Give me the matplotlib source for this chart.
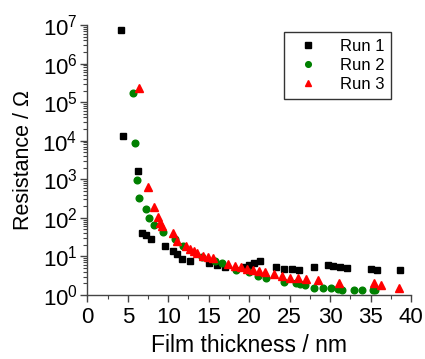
import matplotlib
matplotlib.use("Agg")
import matplotlib.pyplot as plt
from matplotlib.ticker import MultipleLocator, LogLocator, NullFormatter

plt.rcParams['font.family'] = ['Liberation Sans', 'DejaVu Sans']
plt.rcParams['mathtext.fontset'] = 'custom'
plt.rcParams['mathtext.rm'] = 'Liberation Sans'
plt.rcParams['mathtext.it'] = 'Liberation Sans'
plt.rcParams['mathtext.bf'] = 'Liberation Sans'

run1_x = [4.16, 4.41, 6.22, 6.72, 7.25, 7.83, 9.56, 10.54, 11.05, 11.65, 12.64, 15.02,
          16.04, 16.96, 19.32, 19.99, 20.58, 21.3, 23.38, 24.37, 25.27, 26.11, 28.02,
          29.8, 30.42, 31.28, 32.06, 35.06, 35.85, 38.69]
run1_y = [7.3e6, 1.32e4, 1.66e3, 41, 35, 28.3, 18.3, 14.1, 11.7, 8.7, 7.7, 6.9,
          5.9, 5.4, 5.3, 6.05, 6.8, 7.4, 5.4, 4.8, 4.7, 4.5, 5.4,
          5.9, 5.6, 5.3, 5.1, 4.8, 4.45, 4.5]

run2_x = [5.68, 5.93, 6.14, 6.42, 7.21, 7.62, 8.2, 9.31, 10.79, 11.81, 14.2, 15.77,
          16.63, 18.35, 19.96, 21.14, 22.12, 24.32, 25.85, 26.26, 26.94, 28.05, 29.16,
          30.17, 31.01, 31.44, 33.01, 34.0, 35.27, 35.58]
run2_y = [1.74e5, 8.9e3, 935, 332, 172, 99, 65, 43, 27.7, 18.6, 9.8, 7.5,
          6.7, 4.45, 3.87, 3.05, 2.7, 2.17, 2.0, 1.93, 1.8, 1.5, 1.5,
          1.49, 1.41, 1.35, 1.33, 1.33, 1.33, 1.33]

run3_x = [6.42, 7.56, 8.23, 8.73, 9.04, 9.22, 10.62, 11.14, 12.19, 12.68, 13.17, 13.58,
          14.32, 14.9, 15.48, 17.43, 18.27, 18.98, 19.78, 20.46, 21.2, 21.94, 23.05,
          24.1, 25.06, 26.01, 27.06, 28.46, 31.14, 35.43, 36.28, 38.54]
run3_y = [2.3e5, 620, 196, 105, 73, 61, 40, 25, 18.3, 15.8, 14.0, 12.3,
          10.2, 9.8, 9.2, 6.5, 5.65, 5.2, 4.8, 4.45, 4.1, 3.9, 3.5,
          3.1, 2.84, 2.76, 2.55, 2.4, 2.02, 2.05, 1.87, 1.52]

fig = plt.figure(figsize=(4.25, 3.59), dpi=100)
ax = fig.add_axes([0.2054, 0.1783, 0.7616, 0.7521])

ax.plot(run1_x, run1_y, 's', color='black', markersize=4.5, linestyle='none', label='Run 1')
ax.plot(run2_x, run2_y, 'o', color='#008000', markersize=4.8, linestyle='none', label='Run 2')
ax.plot(run3_x, run3_y, '^', color='#ff0000', markersize=5.5, linestyle='none', label='Run 3')

ax.set_yscale('log')
ax.set_xlim(0, 40)
ax.set_ylim(1, 1e7)
ax.xaxis.set_major_locator(MultipleLocator(5))
ax.xaxis.set_minor_locator(MultipleLocator(2.5))
ax.yaxis.set_major_locator(LogLocator(base=10, numticks=20))
ax.yaxis.set_minor_locator(LogLocator(base=10, subs=range(2, 10), numticks=100))
ax.yaxis.set_minor_formatter(NullFormatter())

for s in ['top', 'right']:
    ax.spines[s].set_visible(False)
for s in ['left', 'bottom']:
    ax.spines[s].set_color('#444444')
    ax.spines[s].set_linewidth(1.0)

ax.tick_params(axis='both', which='major', direction='out', length=5, width=1,
               labelsize=16, color='#444444')
ax.tick_params(axis='x', which='major', pad=4)
ax.tick_params(axis='y', which='major', pad=2)
ax.tick_params(axis='both', which='minor', direction='out', length=3, width=0.8,
               color='#444444')

ax.set_xlabel('Film thickness / nm', fontsize=16.5, labelpad=4)
ax.set_ylabel('Resistance / \u03a9', fontsize=15.5, labelpad=6)

leg = ax.legend(loc='upper right', bbox_to_anchor=(0.938, 0.974), borderaxespad=0,
                fontsize=12, frameon=True, fancybox=False, edgecolor='black',
                borderpad=0.4, handletextpad=0.92, labelspacing=0.25, markerscale=0.85)
leg.get_frame().set_linewidth(1.0)

fig.savefig('out.png', dpi=100)
